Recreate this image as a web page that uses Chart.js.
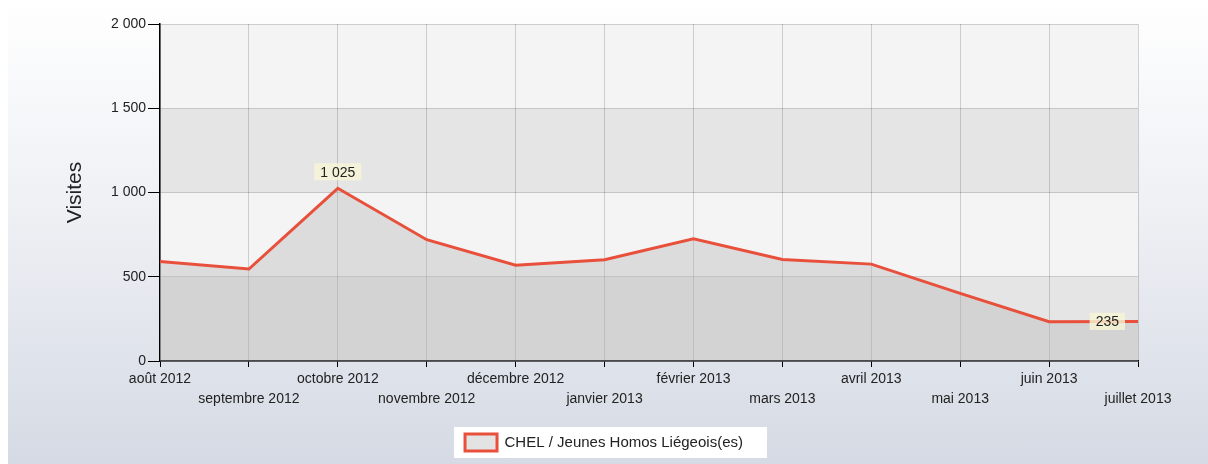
<!DOCTYPE html>
<html>
<head>
<meta charset="utf-8">
<script src="https://cdn.jsdelivr.net/npm/chart.js@4"></script>
<style>
  html, body { margin: 0; padding: 0; }
  body {
    width: 1208px; height: 464px; overflow: hidden;
    background: linear-gradient(#fff, #fff) 0 0 / 8px 100% no-repeat,
                linear-gradient(#ffffff 0%, #eef0f4 45%, #d5dae4 100%);
  }
  canvas { display: block; }
</style>
</head>
<body>
<canvas id="chart" width="1208" height="464"></canvas>
<script>
// data
const months = ['août 2012', 'septembre 2012', 'octobre 2012', 'novembre 2012', 'décembre 2012',
  'janvier 2013', 'février 2013', 'mars 2013', 'avril 2013', 'mai 2013', 'juin 2013', 'juillet 2013'];
const visits = [590, 546, 1025, 720, 569, 601, 725, 603, 575, 401, 233, 235];
const yTicks = [0, 500, 1000, 1500, 2000];
const seriesName = 'CHEL / Jeunes Homos Liégeois(es)';
const labelledPoints = [2, 11];

const FONT = "'Liberation Sans', Arial, sans-serif";

function fmt(n) {
  return String(n).replace(/\B(?=(\d{3})+(?!\d))/g, ' ');
}

// stagger labels on two rows
const xLabels = months.map((m, i) => i % 2 ? ['', m] : m);

// alternating horizontal bands behind the grid
const bandsPlugin = {
  id: 'bands',
  beforeDraw(chart) {
    const { ctx, chartArea, scales } = chart;
    const y = scales.y;
    ctx.save();
    for (let i = 0; i < yTicks.length - 1; i++) {
      const top = y.getPixelForValue(yTicks[i + 1]);
      const bottom = y.getPixelForValue(yTicks[i]);
      ctx.fillStyle = (yTicks.length - 2 - i) % 2 === 0 ? '#f4f4f4' : '#e5e5e5';
      ctx.fillRect(chartArea.left, top, chartArea.right - chartArea.left, bottom - top);
    }
    // white box behind the legend
    const hb = chart.legend && chart.legend.legendHitBoxes && chart.legend.legendHitBoxes[0];
    if (hb) {
      ctx.fillStyle = '#ffffff';
      ctx.fillRect(hb.left - 11, hb.top - 7, hb.width + 35, hb.height + 14);
    }
    ctx.restore();
  }
};

// value labels on max and last point
const valueLabels = {
  id: 'valueLabels',
  afterDatasetsDraw(chart) {
    const { ctx } = chart;
    const meta = chart.getDatasetMeta(0);
    ctx.save();
    ctx.font = '14px ' + FONT;
    ctx.textBaseline = 'middle';
    labelledPoints.forEach((i, k) => {
      const pt = meta.data[i];
      const txt = fmt(visits[i]);
      const w = ctx.measureText(txt).width + 12;
      const h = 17;
      let bx, by;
      if (k === 0) {
        bx = pt.x - w / 2;
        by = pt.y - 8 - h;
      } else {
        bx = pt.x - 13 - w;
        by = pt.y - h / 2;
      }
      ctx.fillStyle = 'rgba(248, 246, 214, 0.8)';
      ctx.fillRect(bx, by, w, h);
      ctx.fillStyle = '#222';
      ctx.textAlign = 'center';
      ctx.fillText(txt, bx + w / 2, by + h / 2 + 1);
    });
    ctx.restore();
  }
};

new Chart(document.getElementById('chart'), {
  type: 'line',
  data: {
    labels: xLabels,
    datasets: [{
      label: seriesName,
      data: visits,
      borderColor: '#e8503c',
      borderWidth: 3,
      backgroundColor: 'rgba(184, 184, 184, 0.4)',
      fill: 'origin',
      tension: 0,
      pointRadius: 0
    }]
  },
  options: {
    responsive: false,
    animation: false,
    devicePixelRatio: 1,
    layout: { padding: { left: 0, right: 0, top: 24, bottom: 3 } },
    plugins: {
      tooltip: { enabled: false },
      legend: {
        position: 'bottom',
        labels: {
          boxWidth: 32,
          boxHeight: 17,
          padding: 10,
          color: '#222',
          font: { family: FONT, size: 15 }
        }
      }
    },
    scales: {
      x: {
        grid: { color: 'rgba(0,0,0,0.16)', tickColor: '#000', tickLength: 6 },
        border: { color: '#000', width: 1.5 },
        ticks: {
          autoSkip: false, maxRotation: 0, minRotation: 0, padding: 2,
          color: '#222',
          font: { family: FONT, size: 14, lineHeight: 1.43 }
        },
        afterFit(scale) { scale.height = 63; }
      },
      y: {
        min: 0, max: 2000,
        grid: { color: 'rgba(0,0,0,0.16)', tickColor: '#000', tickLength: 12 },
        border: { color: '#000', width: 1.5 },
        ticks: {
          stepSize: 500, padding: 2, color: '#222',
          font: { family: FONT, size: 14 },
          callback: v => fmt(v)
        },
        title: {
          display: true, text: 'Visites', color: '#222',
          font: { family: FONT, size: 21 },
          padding: { top: 63, bottom: 0 }
        },
        afterFit(scale) { scale.width = 160; }
      },
      // empty strip on the right so the plot ends where the reference does
      spacer: {
        position: 'right',
        grid: { display: false },
        border: { display: false },
        ticks: { display: false },
        afterFit(scale) { scale.width = 70; }
      }
    }
  },
  plugins: [bandsPlugin, valueLabels]
});
</script>
</body>
</html>
